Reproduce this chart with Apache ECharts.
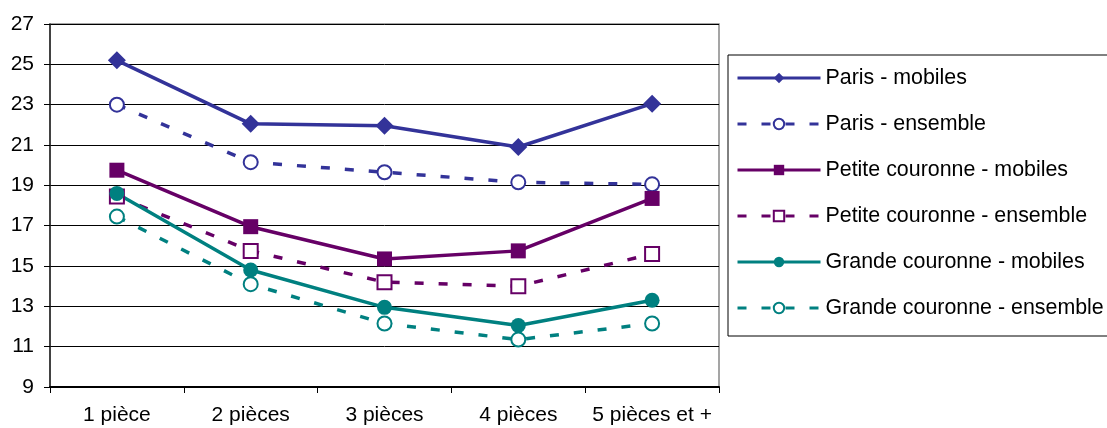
<!DOCTYPE html>
<html>
<head>
<meta charset="utf-8">
<script src="https://cdn.jsdelivr.net/npm/echarts@6/dist/echarts.min.js"></script>
<style>
  html, body { margin: 0; padding: 0; background: #fff; }
  #chart { width: 1107px; height: 428px; }
</style>
</head>
<body>
<div id="chart"></div>
<script>
const categories = ['1 pièce', '2 pièces', '3 pièces', '4 pièces', '5 pièces et +'];
const parisMobiles   = [25.2, 22.05, 21.95, 20.9, 23.05];
const parisEnsemble  = [23.0, 20.15, 19.65, 19.15, 19.05];
const petiteMobiles  = [19.75, 16.95, 15.35, 15.75, 18.35];
const petiteEnsemble = [18.45, 15.75, 14.2, 14.0, 15.6];
const grandeMobiles  = [18.6, 14.8, 12.95, 12.05, 13.3];
const grandeEnsemble = [17.45, 14.1, 12.15, 11.35, 12.15];
const yMin = 9, yMax = 27, yStep = 2;

const FONT = '"Liberation Sans", Arial, sans-serif';
const C_PARIS = '#333399', C_PETITE = '#660066', C_GRANDE = '#008080';
const DASH = [9, 15];

function solid(name, data, color, symbol, size) {
  return {
    name, type: 'line', data,
    symbol, symbolSize: size,
    lineStyle: { color, width: 3.5, type: 'solid' },
    itemStyle: { color, borderColor: color, borderWidth: 0 },
    emphasis: { disabled: true }
  };
}
function dashed(name, data, color, symbol, size) {
  return {
    name, type: 'line', data,
    symbol, symbolSize: size,
    lineStyle: { color, width: 3.5, type: DASH },
    itemStyle: { color: '#fff', borderColor: color, borderWidth: 2 },
    emphasis: { disabled: true }
  };
}

const chart = echarts.init(document.getElementById('chart'), null, { renderer: 'canvas' });
chart.setOption({
  animation: false,
  backgroundColor: '#fff',
  textStyle: { fontFamily: FONT },
  grid: {
    left: 50, right: 388, top: 24, bottom: 41,
    show: true, borderColor: '#888', borderWidth: 1.5, backgroundColor: 'transparent'
  },
  legend: {
    orient: 'vertical',
    left: 728, top: 55,
    padding: [11, 8, 16, 8],
    borderColor: '#000', borderWidth: 1,
    itemWidth: 83, itemHeight: 13, itemGap: 22,
    lineStyle: { width: 3 },
    textStyle: { fontFamily: FONT, fontSize: 21.4, color: '#000', lineHeight: 24 },
    data: ['Paris - mobiles', 'Paris - ensemble', 'Petite couronne - mobiles',
           'Petite couronne - ensemble', 'Grande couronne - mobiles', 'Grande couronne - ensemble']
  },
  xAxis: {
    type: 'category',
    data: categories,
    boundaryGap: true,
    axisLine: { lineStyle: { color: '#000', width: 2 } },
    axisTick: { show: true, length: 6, lineStyle: { color: '#000', width: 1 } },
    axisLabel: { fontFamily: FONT, fontSize: 21, color: '#000', margin: 18, interval: 0 },
    splitLine: { show: false }
  },
  yAxis: {
    type: 'value',
    min: yMin, max: yMax, interval: yStep,
    axisLine: { show: true, lineStyle: { color: '#222', width: 1.5 } },
    axisTick: { show: true, length: 6, lineStyle: { color: '#000' } },
    axisLabel: { fontFamily: FONT, fontSize: 21, color: '#000', margin: 16 },
    splitLine: { show: true, lineStyle: { color: '#000', width: 1 } }
  },
  series: [
    solid('Paris - mobiles', parisMobiles, C_PARIS, 'diamond', 18),
    dashed('Paris - ensemble', parisEnsemble, C_PARIS, 'circle', 14),
    solid('Petite couronne - mobiles', petiteMobiles, C_PETITE, 'rect', 15),
    dashed('Petite couronne - ensemble', petiteEnsemble, C_PETITE, 'rect', 14),
    solid('Grande couronne - mobiles', grandeMobiles, C_GRANDE, 'circle', 15),
    dashed('Grande couronne - ensemble', grandeEnsemble, C_GRANDE, 'circle', 14)
  ]
});
</script>
</body>
</html>
